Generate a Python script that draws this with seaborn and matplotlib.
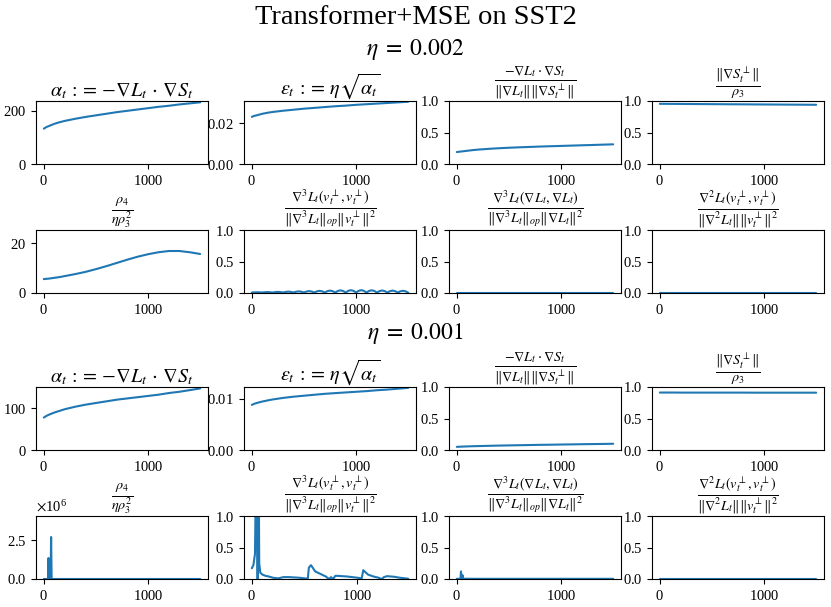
import matplotlib
matplotlib.use("Agg")
import matplotlib.pyplot as plt
import seaborn as sns

# ---- data ----
steps = [0, 25, 50, 100, 150, 200, 300, 400, 500, 600, 700, 800, 900, 1000,
         1100, 1200, 1300, 1400, 1500]
steps_25 = list(range(0, 1525, 25))

# eta = 0.002
alpha_a = [133, 139, 143, 151, 157, 162, 170, 177, 183, 189, 195, 200, 205, 210,
           215, 219, 224, 228, 232]
eps_a = [0.0231, 0.0236, 0.0239, 0.0246, 0.0251, 0.0255, 0.0261, 0.0266, 0.0271,
         0.0275, 0.0279, 0.0283, 0.0286, 0.0290, 0.0293, 0.0296, 0.0299, 0.0302, 0.0305]
cos_a = [0.19, 0.195, 0.20, 0.21, 0.22, 0.228, 0.24, 0.25, 0.258, 0.265, 0.271,
         0.277, 0.282, 0.287, 0.292, 0.297, 0.302, 0.307, 0.312]
norm_a = [0.955, 0.955, 0.955, 0.954, 0.954, 0.953, 0.952, 0.951, 0.950, 0.949,
          0.948, 0.947, 0.946, 0.945, 0.944, 0.943, 0.942, 0.941, 0.940]
rho_a = [5.6, 5.7, 5.8, 6.1, 6.4, 6.8, 7.6, 8.5, 9.6, 10.8, 12.1, 13.4, 14.6,
         15.6, 16.4, 16.9, 16.9, 16.4, 15.7]
d3v_a = [0.008, 0.010, 0.012, 0.010,
         0.008, 0.012, 0.015, 0.012,
         0.008, 0.014, 0.018, 0.014,
         0.008, 0.017, 0.022, 0.017,
         0.008, 0.020, 0.026, 0.020,
         0.008, 0.023, 0.030, 0.023,
         0.008, 0.026, 0.034, 0.026,
         0.008, 0.029, 0.038, 0.029,
         0.008, 0.032, 0.042, 0.032,
         0.008, 0.034, 0.045, 0.034,
         0.008, 0.034, 0.045, 0.034,
         0.008, 0.033, 0.043, 0.033,
         0.008, 0.030, 0.040, 0.030,
         0.008, 0.029, 0.038, 0.029,
         0.008, 0.027, 0.035, 0.027,
         0.005]
d3g_a = [0.002, 0.002, 0.002, 0.002, 0.002, 0.002, 0.002, 0.002, 0.002, 0.002,
         0.002, 0.002, 0.002, 0.002, 0.002, 0.002, 0.002, 0.002, 0.002]
d2v_a = [0.003, 0.003, 0.003, 0.003, 0.003, 0.003, 0.003, 0.003, 0.003, 0.003,
         0.003, 0.003, 0.003, 0.003, 0.003, 0.003, 0.003, 0.003, 0.003]

# eta = 0.001
alpha_b = [78, 82, 85, 90, 94, 98, 104, 109, 113, 117, 121, 124, 127, 130,
           133, 137, 140, 144, 148]
eps_b = [0.00883, 0.00906, 0.00922, 0.00949, 0.00970, 0.00990, 0.01020, 0.01044,
         0.01063, 0.01082, 0.01100, 0.01114, 0.01127, 0.01140, 0.01153, 0.01170,
         0.01183, 0.01200, 0.01217]
cos_b = [0.05, 0.052, 0.054, 0.057, 0.060, 0.062, 0.066, 0.070, 0.073, 0.076,
         0.079, 0.082, 0.084, 0.087, 0.089, 0.092, 0.094, 0.096, 0.099]
norm_b = [0.912, 0.912, 0.912, 0.912, 0.912, 0.911, 0.911, 0.911, 0.911, 0.911,
          0.911, 0.911, 0.910, 0.910, 0.910, 0.910, 0.910, 0.910, 0.910]

rho_b_steps = [0, 20, 40, 45, 50, 65, 70, 75, 100, 200, 300, 400, 500, 600, 700,
               800, 900, 1000, 1100, 1200, 1300, 1400, 1500]
rho_b = [0, 0, 0, 1.35e6, 0, 0, 2.7e6, 0, 0, 0, 0, 0, 0, 0, 0, 0, 0, 0, 0, 0, 0, 0, 0]

d3v_b_steps = [0, 15, 30, 38, 45, 55, 62, 70, 80, 100, 130, 160, 200, 250, 300,
               350, 400, 450, 500, 530, 540, 560, 600, 650, 700, 730, 750, 770,
               790, 810, 900, 1000, 1040, 1055, 1100, 1150, 1200, 1230, 1250,
               1280, 1350, 1400, 1480]
d3v_b = [0.17, 0.22, 0.40, 1.5, 3.0, 0.0, 3.0, 0.25, 0.10, 0.07, 0.05, 0.04,
         0.02, 0.01, 0.03, 0.03, 0.025, 0.02, 0.01, 0.005, 0.18, 0.22, 0.12,
         0.08, 0.04, 0.0, 0.03, 0.0, 0.05, 0.05, 0.04, 0.02, 0.01, 0.14, 0.07,
         0.04, 0.02, 0.0, 0.03, 0.045, 0.035, 0.02, 0.005]

d3g_b_steps = [0, 20, 35, 40, 45, 50, 55, 60, 80, 200, 400, 600, 800, 1000,
               1200, 1400, 1500]
d3g_b = [0.003, 0.003, 0.003, 0.12, 0.01, 0.02, 0.06, 0.005, 0.004, 0.003,
         0.003, 0.003, 0.003, 0.003, 0.003, 0.003, 0.003]
d2v_b = [0.004, 0.004, 0.004, 0.004, 0.004, 0.004, 0.004, 0.004, 0.004, 0.004,
         0.004, 0.004, 0.004, 0.004, 0.004, 0.004, 0.004, 0.004, 0.004]

titles = [
    r'$\alpha_t \,:=\, {-}\nabla L_t \,\cdot\, \nabla S_t$',
    r'$\varepsilon_t \,:=\, \eta\sqrt{\alpha_t}$',
    r'$\frac{-\nabla L_t \cdot \nabla S_t}{\|\nabla L_t\| \|\nabla S_t^\perp\|}$',
    r'$\frac{\|\nabla S_t^\perp\|}{\rho_3}$',
    r'$\frac{\rho_4}{\eta\rho_3^2}$',
    r'$\frac{\nabla^3 L_t(v_t^\perp, v_t^\perp)}{\|\nabla^3 L_t\|_{op} \|v_t^\perp\|^2}$',
    r'$\frac{\nabla^3 L_t(\nabla L_t, \nabla L_t)}{\|\nabla^3 L_t\|_{op} \|\nabla L_t\|^2}$',
    r'$\frac{\nabla^2 L_t(v_t^\perp, v_t^\perp)}{\|\nabla^2 L_t\| \|v_t^\perp\|^2}$',
]

# ---- style ----
sns.set_theme(style="ticks", rc={
    "axes.edgecolor": "black",
    "axes.linewidth": 0.8,
    "text.color": "black",
    "axes.labelcolor": "black",
    "xtick.color": "black",
    "ytick.color": "black",
    "xtick.major.width": 0.8,
    "ytick.major.width": 0.8,
    "xtick.major.size": 3.5,
    "ytick.major.size": 3.5,
    "xtick.labelsize": 10.5,
    "ytick.labelsize": 10.5,
    "axes.formatter.use_mathtext": True,
})
plt.rcParams["font.family"] = ["Liberation Serif", "DejaVu Serif"]
plt.rcParams["mathtext.fontset"] = "stix"

line_color = "#1f77b4"

W, H = 831, 607
col_left = [36, 244, 449, 652]
col_w = 172
row_top = [101, 230, 387, 516]
row_h = 63

fig = plt.figure(figsize=(W / 100, H / 100), dpi=100)

# (row, col, x, y, ylim-mode)
panels = [
    (0, 0, steps, alpha_a, "auto"), (0, 1, steps, eps_a, "auto"),
    (0, 2, steps, cos_a, "unit"), (0, 3, steps, norm_a, "unit"),
    (1, 0, steps, rho_a, "x1.5"), (1, 1, steps_25, d3v_a, "unit"),
    (1, 2, steps, d3g_a, "unit"), (1, 3, steps, d2v_a, "unit"),
    (2, 0, steps, alpha_b, "auto"), (2, 1, steps, eps_b, "auto"),
    (2, 2, steps, cos_b, "unit"), (2, 3, steps, norm_b, "unit"),
    (3, 0, rho_b_steps, rho_b, "x1.5"), (3, 1, d3v_b_steps, d3v_b, "unit"),
    (3, 2, d3g_b_steps, d3g_b, "unit"), (3, 3, steps, d2v_b, "unit"),
]

for r, c, xs, ys, mode in panels:
    ax = fig.add_axes([col_left[c] / W, 1 - (row_top[r] + row_h) / H,
                       col_w / W, row_h / H])
    sns.lineplot(x=xs, y=ys, ax=ax, color=line_color, linewidth=1.5)
    if mode == "unit":
        ax.set_ylim(0, 1)
    elif mode == "x1.5":
        ax.set_ylim(0, 1.5 * max(ys))
    else:
        ax.set_ylim(bottom=0)
    ax.set_title(titles[(r % 2) * 4 + c], fontsize=14.5, pad=2)
    ax.set_xlabel("")
    ax.set_ylabel("")

fig.text(0.5, 1 - 18 / H, "Transformer+MSE on SST2", ha="center", va="center",
         fontsize=20.5)
fig.text(0.5, 1 - 49 / H, r"$\eta \;=\; 0.002$", ha="center", va="center", fontsize=17)
fig.text(0.5, 1 - 334 / H, r"$\eta \;=\; 0.001$", ha="center", va="center", fontsize=17)

fig.savefig("out.png", dpi=100)
plt.close(fig)
